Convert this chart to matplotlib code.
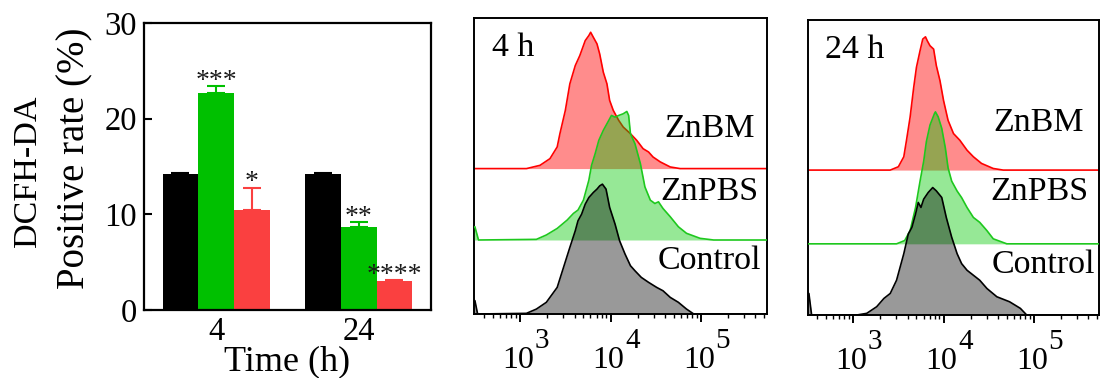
import numpy as np
import matplotlib
matplotlib.use("Agg")
import matplotlib.pyplot as plt
from matplotlib.ticker import LogLocator, NullFormatter, FixedLocator

plt.rcParams['font.family'] = ['Liberation Serif', 'DejaVu Serif']

# ---------------- bar chart data ----------------
time_labels = ['4', '24']
control_vals = [14.2, 14.2]
control_err = [0.15, 0.10]
znpbs_vals = [22.7, 8.7]
znpbs_err = [0.75, 0.45]
znbm_vals = [10.5, 3.0]
znbm_err = [2.3, 0.15]
znpbs_sig = ['***', '**']
znbm_sig = ['*', '****']

# ---------------- flow histogram data (log10 intensity, % of mode) -------------
# 4 h panel
f4_znbm_x = [3.07, 3.22, 3.33, 3.41, 3.44, 3.50, 3.55, 3.61, 3.66, 3.72, 3.76, 3.78,
             3.81, 3.85, 3.88, 3.92, 3.96, 3.99, 4.03, 4.09, 4.14, 4.22, 4.29, 4.36,
             4.42, 4.47, 4.55, 4.66, 4.77]
f4_znbm_h = [0, 2.4, 7.3, 15.9, 25.6, 42.7, 62.2, 75.6, 82.9, 93.9, 97.6, 100,
             96.3, 91.5, 84.1, 70.7, 62.2, 50.0, 42.7, 35.4, 30.5, 25.6, 20.7, 14.6,
             12.2, 8.5, 4.9, 1.2, 0]
f4_znpbs_x = [2.50, 2.54, 3.18, 3.29, 3.41, 3.52, 3.59, 3.64, 3.70, 3.76, 3.79, 3.83,
              3.87, 3.92, 3.98, 4.01, 4.05, 4.09, 4.14, 4.18, 4.20, 4.22, 4.27, 4.33,
              4.38, 4.44, 4.49, 4.53, 4.58, 4.66, 4.75, 4.84, 4.99, 5.14]
f4_znpbs_h = [10.3, 0, 0.5, 3.9, 9.0, 15.5, 20.7, 23.3, 31.0, 46.5, 58.1, 67.2,
              77.5, 85.3, 93.0, 96.9, 95.6, 96.9, 98.2, 100, 96.9, 82.7, 74.9, 59.4,
              41.3, 31.0, 28.4, 29.7, 24.5, 18.1, 10.3, 5.2, 1.3, 0]
f4_ctrl_x = [2.50, 2.53, 3.07, 3.18, 3.29, 3.41, 3.48, 3.55, 3.61, 3.64, 3.68, 3.72,
             3.76, 3.81, 3.85, 3.88, 3.91, 3.95, 3.99, 4.05, 4.10, 4.16, 4.22, 4.27,
             4.34, 4.42, 4.51, 4.58, 4.66, 4.75, 4.84, 4.92]
f4_ctrl_h = [10.3, 0, 0.5, 3.8, 9.0, 20.5, 35.9, 51.3, 64.1, 71.8, 76.9, 84.6,
             89.7, 93.6, 96.2, 98.7, 100, 96.2, 82.1, 69.2, 56.4, 46.2, 37.2, 33.3,
             28.2, 24.4, 20.5, 17.9, 12.8, 9.0, 3.8, 0]
# 24 h panel
f24_znbm_x = [3.41, 3.50, 3.56, 3.59, 3.63, 3.67, 3.70, 3.74, 3.77, 3.80, 3.82, 3.85,
              3.89, 3.92, 3.96, 4.00, 4.05, 4.11, 4.18, 4.26, 4.33, 4.42, 4.55, 4.66]
f24_znbm_h = [0, 2.5, 10.0, 22.4, 39.8, 62.2, 77.1, 89.6, 98.3, 100, 97.0, 93.3,
              90.8, 78.4, 67.2, 52.2, 37.3, 27.4, 22.4, 14.9, 10.0, 5.0, 1.2, 0]
f24_znpbs_x = [3.48, 3.57, 3.63, 3.69, 3.74, 3.78, 3.81, 3.85, 3.90, 3.91, 3.94, 3.98,
               4.02, 4.05, 4.09, 4.15, 4.20, 4.26, 4.33, 4.40, 4.48, 4.55, 4.70]
f24_znpbs_h = [0, 2.5, 10.0, 27.5, 47.5, 62.5, 77.5, 90.0, 98.8, 100, 96.3, 87.5,
               72.5, 57.5, 47.5, 40.0, 35.0, 27.5, 20.0, 16.3, 10.0, 3.8, 0]
f24_ctrl_x = [2.51, 2.54, 3.04, 3.15, 3.26, 3.34, 3.41, 3.48, 3.56, 3.61, 3.65, 3.69,
              3.72, 3.75, 3.78, 3.83, 3.88, 3.92, 3.98, 4.03, 4.09, 4.15, 4.20, 4.26,
              4.33, 4.40, 4.48, 4.59, 4.73, 4.85, 4.92]
f24_ctrl_h = [16.9, 0, 0, 1.3, 6.5, 13.0, 16.9, 27.3, 48.1, 63.6, 68.8, 79.2,
              88.3, 84.4, 90.9, 96.1, 100, 97.4, 92.2, 76.6, 61.0, 48.1, 40.3, 35.1,
              31.2, 27.3, 20.8, 14.3, 10.4, 5.2, 0]

panel_titles = ['4 h', '24 h']
group_names = ['ZnBM', 'ZnPBS', 'Control']

# ---------------- figure ----------------
fig = plt.figure(figsize=(11.06, 3.78), dpi=100)
W, H = 1106, 378

def box(l, t, r, b):
    return [l / W, (H - b) / H, (r - l) / W, (b - t) / H]

ax = fig.add_axes(box(144, 23, 431, 310))
x = np.arange(len(time_labels))
bw = 0.25
cols = ['#000000', '#00c000', '#fa4040']
series = [(control_vals, control_err, None),
          (znpbs_vals, znpbs_err, znpbs_sig),
          (znbm_vals, znbm_err, znbm_sig)]
for i, (vals, errs, sig) in enumerate(series):
    xs = x + (i - 1) * bw
    ax.bar(xs, vals, width=bw, color=cols[i], edgecolor='none', zorder=2)
    ax.errorbar(xs, vals, yerr=[np.zeros(len(vals)), errs], fmt='none',
                ecolor=cols[i], elinewidth=1.5, capsize=6.5, capthick=1.5, zorder=3)
    if sig:
        for xx, v, e, s in zip(xs, vals, errs, sig):
            ax.text(xx, v + e - 0.2, s, ha='center', va='baseline', fontsize=20,
                    color='#1a1a1a')
ax.set_xlim(-0.505, 1.507)
ax.set_ylim(0, 30)
ax.set_yticks([0, 10, 20, 30])
ax.set_xticks(x)
ax.set_xticklabels(time_labels)
ax.tick_params(direction='in', length=6, width=1.5, labelsize=23.5, pad=5)
for s in ax.spines.values():
    s.set_linewidth(1.6)
fig.text(28 / W, 1 - 171 / H, 'DCFH-DA', rotation=90, ha='center', va='center',
         fontsize=24.5)
fig.text(75 / W, 1 - 158 / H, 'Positive rate (%)', rotation=90, ha='center',
         va='center', fontsize=28)
fig.text(287 / W, 1 - 370 / H, 'Time (h)', ha='center', va='baseline', fontsize=26)

# flow panels
flow_boxes = [box(474, 18, 767, 314), box(808, 20, 1099, 315)]
flow_xlims = [(2.49, 5.73), (2.50, 5.72)]
flow_data = [
    [(f4_znbm_x, f4_znbm_h), (f4_znpbs_x, f4_znpbs_h), (f4_ctrl_x, f4_ctrl_h)],
    [(f24_znbm_x, f24_znbm_h), (f24_znpbs_x, f24_znpbs_h), (f24_ctrl_x, f24_ctrl_h)],
]
offsets = [[112, 57, 0], [112, 55, 0]]
peaks = [[105, 99, 100], [103, 102, 98.5]]
label_pos = [[(0.805, 0.625), (0.805, 0.412), (0.805, 0.179)],
             [(0.792, 0.653), (0.794, 0.417), (0.808, 0.169)]]
fill_cols = ['#ff0000', '#00c800', '#000000']
fill_alpha = [0.45, 0.41, 0.40]
line_cols = ['#ff0000', '#1ec81e', '#000000']

for p in range(2):
    fa = fig.add_axes(flow_boxes[p])
    fa.set_xscale('log')
    lo, hi = flow_xlims[p]
    for k, (lx, hh) in enumerate(flow_data[p]):
        lx = np.array(lx, dtype=float)
        hh = np.array(hh, dtype=float)
        xs = np.concatenate([[lo], lx, [hi]])
        hs = np.concatenate([[hh[0]], hh, [hh[-1]]])
        ys = offsets[p][k] + hs / 100.0 * peaks[p][k]
        fa.fill_between(10 ** xs, offsets[p][k], ys, color=fill_cols[k],
                        alpha=fill_alpha[k], lw=0, zorder=2 + k)
        fa.plot(10 ** xs, ys, color=line_cols[k], lw=1.2, zorder=2.5 + k)
        lxp, lyp = label_pos[p][k]
        fa.text(lxp, lyp, group_names[k], transform=fa.transAxes, ha='center',
                va='center', fontsize=24.5)
    fa.set_xlim(10 ** lo, 10 ** hi)
    fa.set_ylim(0, 228)
    fa.set_yticks([])
    fa.xaxis.set_major_locator(FixedLocator([1e3, 1e4, 1e5]))
    fa.xaxis.set_minor_locator(LogLocator(base=10, subs=np.arange(2, 10)))
    fa.xaxis.set_minor_formatter(NullFormatter())
    fa.set_xticklabels([])
    fa.tick_params(axis='x', which='major', direction='out', length=6, width=1.4)
    fa.tick_params(axis='x', which='minor', direction='out', length=3, width=1.0)
    for s in fa.spines.values():
        s.set_linewidth(1.4)
    fa.text(0.06, 0.9, panel_titles[p], transform=fa.transAxes, ha='left',
            va='center', fontsize=24.5)
    for e in (3, 4, 5):
        fa.annotate('10', xy=(10.0 ** e, 0), xycoords=('data', 'axes fraction'),
                    xytext=(-1.5, -39), textcoords='offset points', ha='center',
                    va='baseline', fontsize=23, annotation_clip=False)
        fa.annotate(str(e), xy=(10.0 ** e, 0), xycoords=('data', 'axes fraction'),
                    xytext=(10.5, -24.5), textcoords='offset points', ha='left',
                    va='baseline', fontsize=21, annotation_clip=False)

fig.savefig('out.png', dpi=100)
